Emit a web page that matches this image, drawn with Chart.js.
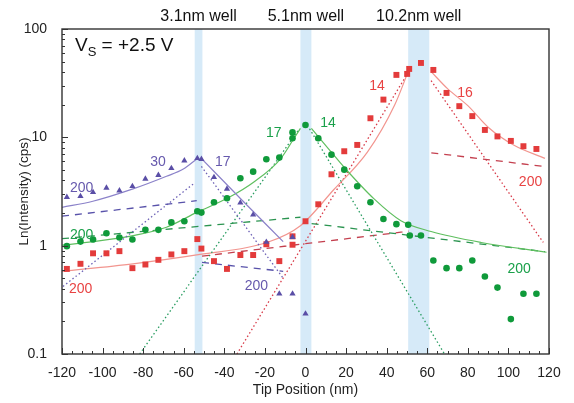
<!DOCTYPE html>
<html>
<head>
<meta charset="utf-8">
<script src="https://cdn.jsdelivr.net/npm/chart.js@4"></script>
<style>
  html, body { margin: 0; padding: 0; background: #fff; }
  #wrap { width: 574px; height: 403px; }
</style>
</head>
<body>
<div id="wrap"><canvas id="chart" width="574" height="403"></canvas></div>
<script>
// measured points (tip position nm, intensity cps)
const purpleX = [-117.6, -110.9, -104.7, -98.1, -91.7, -85.3, -78.9, -72.5, -66.1, -59.7, -53.3, -51.3, -45.1, -38.7, -32.1, -25.8, -19.3, -12.9, -6.4, -6.4, 0];
const purpleY = [2.8, 2.86, 3.11, 3.41, 3.22, 3.53, 4.13, 4.47, 5.18, 6.1, 6.41, 6.28, 4.28, 3.34, 2.49, 1.93, 1.08, 0.36, 1.2, 0.36, 0.235];

const greenX = [-117.6, -110.9, -104.7, -98.1, -91.7, -85.3, -78.9, -72.5, -66.1, -59.7, -53.3, -51.3, -45.1, -38.7, -32.1, -25.8, -19.3, -12.9, -6.4, -6.4, 0, 6.3, 12.8, 19.1, 25.5, 32, 38.4, 44.8, 50.6, 51.4, 56.9, 63, 69.5, 75.8, 82.2, 88.4, 94.6, 101.2, 107.4, 113.8];
const greenY = [0.99, 1.09, 1.14, 1.3, 1.19, 1.14, 1.4, 1.4, 1.64, 1.68, 2.08, 2.02, 2.52, 2.74, 4.19, 4.82, 6.28, 6.5, 9.8, 11.1, 13.0, 9.8, 6.92, 5.03, 3.53, 2.52, 1.76, 1.58, 1.56, 1.24, 1.24, 0.73, 0.62, 0.62, 0.73, 0.52, 0.41, 0.21, 0.36, 0.36];

const redX = [-117.6, -110.9, -104.7, -98.1, -91.7, -85.3, -78.9, -72.5, -66.1, -59.7, -53.3, -51.3, -45.1, -38.7, -32.1, -25.8, -19.3, -12.9, -6.4, -6.4, 0, 6.3, 12.8, 19.1, 25.5, 32, 38.4, 44.8, 50.1, 51.1, 56.9, 63, 69.5, 75.8, 82.2, 88.4, 94.6, 101.2, 107.4, 113.8];
const redY = [0.61, 0.68, 0.85, 0.85, 0.89, 0.62, 0.67, 0.74, 0.83, 0.89, 1.15, 0.94, 0.72, 0.61, 0.82, 0.82, 1.03, 0.72, 1.22, 1.02, 1.68, 2.41, 4.56, 7.44, 8.51, 15.0, 22.3, 37.7, 38.5, 42.8, 48.6, 41.9, 25.7, 19.4, 15.7, 11.7, 10.2, 9.27, 8.28, 7.81];

// fit curves
const purpleFitLeftX = [-120, -104.8, -85, -68.5, -60.2, -53.6];
const purpleFitLeftY = [2.26, 2.57, 3.34, 4.37, 5.1, 6.3];
const purpleFitRightX = [-51, -31, -11];
const purpleFitRightY = [6.3, 2.6, 1.09];
const purpleDashX = [[-120, -53.6], [-51, -11]];
const purpleDashY = [[1.87, 2.6], [0.70, 0.58]];
const purpleDotX = [[-119.5, -55.3], [-51.3, -11]];
const purpleDotY = [[0.42, 3.71], [5.4, 0.5]];

const greenFitLeftX = [-120, -104.8, -85, -68.5, -53.6, -38.3, -25.6, -12.4, -5.8, -2.5];
const greenFitLeftY = [1.01, 1.09, 1.24, 1.48, 2.03, 2.75, 3.85, 6.3, 9.7, 12.1];
const greenFitRightX = [2.9, 10, 19.8, 33.8, 47, 61.9, 86.6, 118.8];
const greenFitRightY = [12.1, 8.4, 5.1, 2.7, 1.7, 1.35, 1.07, 0.87];
const greenDashX = [[-120, -2.5], [3, 118]];
const greenDashY = [[1.16, 1.83], [1.6, 0.88]];
const greenDotX = [[-81.7, -3], [2, 68.5]];
const greenDotY = [[0.1, 12], [12, 0.1]];

const redFitLeftX = [-120, -85, -52, -19, -2.5, 14, 30.5, 44, 50.5];
const redFitLeftY = [0.58, 0.68, 0.83, 1.07, 1.53, 3.3, 7.3, 20, 40];
const redFitRightX = [61.9, 70.1, 80, 90, 103, 118];
const redFitRightY = [40.4, 28, 19.6, 12.4, 8.4, 6.4];
const redDashX = [[-51, 51], [62, 117]];
const redDashY = [[0.80, 1.36], [7.2, 5.4]];
const redDotX = [[-33.8, 50], [61.9, 117.2]];
const redDotY = [[0.1, 38], [33.4, 1.07]];

// wells
const wellBands = [[-54.6, -50.8], [-2.5, 2.9], [50.6, 61]];
const wellLabels = ["3.1nm well", "5.1nm well", "10.2nm well"];

// decay-length labels
const noteText = ["30", "17", "200", "200", "17", "14", "200", "200", "14", "16", "200", "200"];
const noteX = [-72.7, -40.8, -110.3, -24.2, -15.6, 11.1, -110.3, 105.3, 35.2, 78.6, -110.8, 110.9];
const noteY = [5.91, 5.95, 3.42, 0.42, 10.96, 13.4, 1.24, 0.61, 29.5, 25.7, 0.40, 3.86];
const noteSeries = ["p", "p", "p", "p", "g", "g", "g", "g", "r", "r", "r", "r"];

const yTicks = [0.1, 1, 10, 100];

const C = {
  p: { mark: "#5a4ea6", solid: "#8b82c9", dash: "#5852aa", dot: "#6d62b6", text: "#6659ad" },
  g: { mark: "#0f9a3a", solid: "#5fbf5f", dash: "#2b9450", dot: "#2a9d62", text: "#1aa04a" },
  r: { mark: "#e33b3b", solid: "#f2958f", dash: "#c4404f", dot: "#d83a48", text: "#e84343" },
};
const FONT = "'Liberation Sans', Arial, Helvetica, sans-serif";

const pts = (xs, ys) => xs.map((x, i) => ({ x: x, y: ys[i] }));

function markers(xs, ys, col, style, r) {
  return { data: pts(xs, ys), pointStyle: style, pointRadius: r, backgroundColor: col, borderColor: col, borderWidth: 0, showLine: false, order: 0 };
}
function curve(xs, ys, col, dash, w) {
  return {
    data: pts(xs, ys), showLine: true, pointRadius: 0, borderColor: col, borderWidth: w,
    borderDash: dash, cubicInterpolationMode: "monotone", fill: false, order: 1,
  };
}

const datasets = [];
[
  ["p", purpleFitLeftX, purpleFitLeftY, purpleFitRightX, purpleFitRightY, purpleDashX, purpleDashY, purpleDotX, purpleDotY],
  ["g", greenFitLeftX, greenFitLeftY, greenFitRightX, greenFitRightY, greenDashX, greenDashY, greenDotX, greenDotY],
  ["r", redFitLeftX, redFitLeftY, redFitRightX, redFitRightY, redDashX, redDashY, redDotX, redDotY],
].forEach(([k, lx, ly, rx, ry, dx, dy, tx, ty]) => {
  datasets.push(curve(lx, ly, C[k].solid, [], 1.2));
  datasets.push(curve(rx, ry, C[k].solid, [], 1.2));
  dx.forEach((x, i) => datasets.push(curve(x, dy[i], C[k].dash, [7, 6], 1.3)));
  tx.forEach((x, i) => datasets.push(curve(x, ty[i], C[k].dot, [1.5, 2.5], 1.3)));
});
datasets.push(markers(purpleX, purpleY, C.p.mark, "triangle", 3.6));
datasets.push(markers(greenX, greenY, C.g.mark, "circle", 3.3));
datasets.push(markers(redX, redY, C.r.mark, "rect", 4.2));

const decor = {
  id: "decor",
  beforeDatasetsDraw(chart) {
    const { ctx, chartArea: a, scales: { x } } = chart;
    ctx.save();
    ctx.fillStyle = "#d6eaf8";
    wellBands.forEach(([x0, x1]) => {
      const p0 = x.getPixelForValue(x0), p1 = x.getPixelForValue(x1);
      ctx.fillRect(p0, a.top, p1 - p0, a.bottom - a.top);
    });
    ctx.restore();
  },
  afterDatasetsDraw(chart) {
    const { ctx, chartArea: a, scales: { x, y } } = chart;
    ctx.save();
    // frame
    ctx.strokeStyle = "#333";
    ctx.lineWidth = 1.4;
    ctx.strokeRect(a.left, a.top, a.right - a.left, a.bottom - a.top);
    // inward ticks
    ctx.lineWidth = 1;
    ctx.beginPath();
    for (let v = -120; v <= 120; v += 5) {
      const px = Math.round(x.getPixelForValue(v)) + 0.5;
      const len = v % 20 === 0 ? 6 : 3;
      ctx.moveTo(px, a.bottom);
      ctx.lineTo(px, a.bottom - len);
    }
    for (let d = 0.1; d < 100; d *= 10) {
      for (let m = 1; m <= 10; m++) {
        const py = Math.round(y.getPixelForValue(d * m)) + 0.5;
        const len = m === 1 || m === 10 ? 6 : 3;
        ctx.moveTo(a.left, py);
        ctx.lineTo(a.left + len, py);
      }
    }
    ctx.stroke();
    // decay-length labels
    ctx.font = "14px " + FONT;
    ctx.textAlign = "center";
    ctx.textBaseline = "middle";
    noteText.forEach((t, i) => {
      ctx.fillStyle = C[noteSeries[i]].text;
      ctx.fillText(t, x.getPixelForValue(noteX[i]), y.getPixelForValue(noteY[i]));
    });
    // well labels
    ctx.fillStyle = "#111";
    ctx.font = "16px " + FONT;
    ctx.textBaseline = "alphabetic";
    wellLabels.forEach((t, i) => {
      const c = x.getPixelForValue((wellBands[i][0] + wellBands[i][1]) / 2);
      ctx.fillText(t, c, 21);
    });
    // bias label
    ctx.textAlign = "left";
    ctx.font = "19px " + FONT;
    ctx.fillText("V", a.left + 13, 51);
    const vw = ctx.measureText("V").width;
    ctx.font = "13px " + FONT;
    ctx.fillText("S", a.left + 13 + vw, 56);
    const sw = ctx.measureText("S").width;
    ctx.font = "19px " + FONT;
    ctx.fillText(" = +2.5 V", a.left + 13 + vw + sw, 51);
    ctx.restore();
  },
};

new Chart(document.getElementById("chart"), {
  type: "scatter",
  data: { datasets: datasets },
  options: {
    responsive: false,
    animation: false,
    devicePixelRatio: 1,
    layout: { padding: { top: 29, right: 25, left: 0, bottom: 0 } },
    plugins: { legend: { display: false }, tooltip: { enabled: false } },
    scales: {
      x: {
        type: "linear", min: -120, max: 120,
        grid: { display: false }, border: { display: false },
        ticks: { stepSize: 20, color: "#222", padding: 3, font: { size: 14, family: FONT } },
        title: { display: true, text: "Tip Position (nm)", color: "#222", font: { size: 14, family: FONT }, padding: { top: 0, bottom: 4 } },
        afterFit: (s) => { s.height = 49; },
      },
      y: {
        type: "logarithmic", min: 0.1, max: 100,
        grid: { display: false }, border: { display: false },
        afterBuildTicks: (s) => { s.ticks = yTicks.map((v) => ({ value: v })); },
        ticks: { color: "#222", padding: 7, font: { size: 14, family: FONT }, callback: (v) => String(v) },
        title: { display: true, text: "Ln(Intensity) (cps)", color: "#222", font: { size: 13.5, family: FONT }, padding: { top: 16, bottom: 0 } },
        afterFit: (s) => { s.width = 62; },
      },
    },
  },
  plugins: [decor],
});
</script>
</body>
</html>
